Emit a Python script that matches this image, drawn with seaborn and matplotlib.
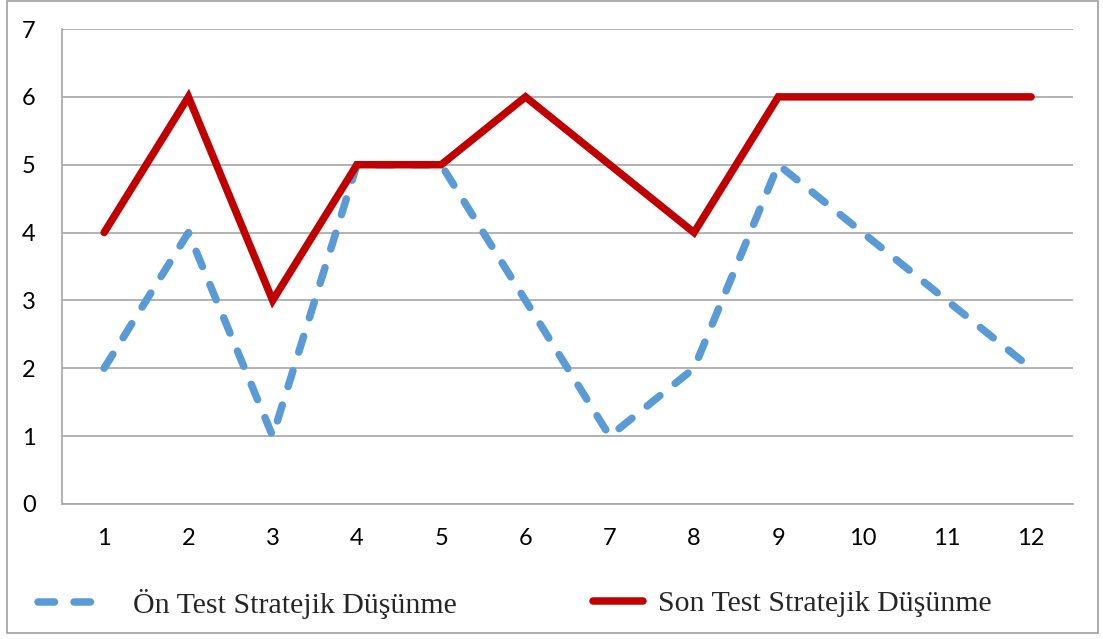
import matplotlib
matplotlib.use('Agg')
import matplotlib.pyplot as plt
import pandas as pd
import seaborn as sns
from matplotlib.patches import Rectangle

# Values
WEEKS = [1, 2, 3, 4, 5, 6, 7, 8, 9, 10, 11, 12]
ON_TEST = [2, 4, 1, 5, 5, 3, 1, 2, 5, 4, 3, 2]
SON_TEST = [4, 6, 3, 5, 5, 6, 5, 4, 6, 6, 6, 6]
LABEL_ON = 'Ön Test Stratejik Düşünme'
LABEL_SON = 'Son Test Stratejik Düşünme'

BLUE = '#5B9BD5'
RED = '#C00000'
GRID = '#A6A6A6'

sns.set_style('white')
plt.rcParams['font.family'] = ['Lato', 'DejaVu Sans']

data = pd.DataFrame({'Week': WEEKS, 'On': ON_TEST, 'Son': SON_TEST})

fig = plt.figure(figsize=(11.03, 6.39), dpi=100)
ax = fig.add_axes([0.0562, 0.2113, 0.9168, 0.7433])

sns.lineplot(data, x='Week', y='On', ax=ax, color=BLUE, linewidth=5.4, legend=False)
sns.lineplot(data, x='Week', y='Son', ax=ax, color=RED, linewidth=5.4, legend=False)

blue_line, red_line = ax.get_lines()[:2]
blue_line.set_dashes((2.2, 2.6))
blue_line.set_dash_capstyle('round')
red_line.set_solid_joinstyle('miter')

ax.set_xlim(0.5, 12.5)
ax.set_ylim(0, 7)
ax.set_xticks(WEEKS)
ax.set_yticks(range(8))
ax.tick_params(axis='both', length=0, labelsize=17, colors='black')
ax.tick_params(axis='x', pad=17)
ax.tick_params(axis='y', pad=19)
ax.set_xlabel('')
ax.set_ylabel('')

ax.yaxis.grid(True, color=GRID, linewidth=1.2)
ax.set_axisbelow(True)
for side in ['top', 'right']:
    ax.spines[side].set_visible(False)
for side in ['left', 'bottom']:
    ax.spines[side].set_color(GRID)
    ax.spines[side].set_linewidth(1.2)

legend_font = {'family': 'Liberation Serif', 'size': 21.5}

# blue handle is longer than the red one in the reference, so two legends
leg_on = fig.legend([blue_line], [LABEL_ON], loc='center left',
                    bbox_to_anchor=(0.0345, 0.055), frameon=False,
                    handlelength=2.4, handletextpad=0.77, borderpad=0, borderaxespad=0,
                    prop=legend_font)
leg_son = fig.legend([red_line], [LABEL_SON], loc='center left',
                     bbox_to_anchor=(0.5376, 0.055), frameon=False,
                     handlelength=1.67, handletextpad=0.5, borderpad=0, borderaxespad=0,
                     prop=legend_font)

# thin grey frame around the whole chart
fig.patches.append(Rectangle((0.0065, 0.009), 0.989, 0.99, transform=fig.transFigure,
                             fill=False, edgecolor='#A0A0A0', linewidth=1.2))

fig.savefig('out.png', dpi=100)
